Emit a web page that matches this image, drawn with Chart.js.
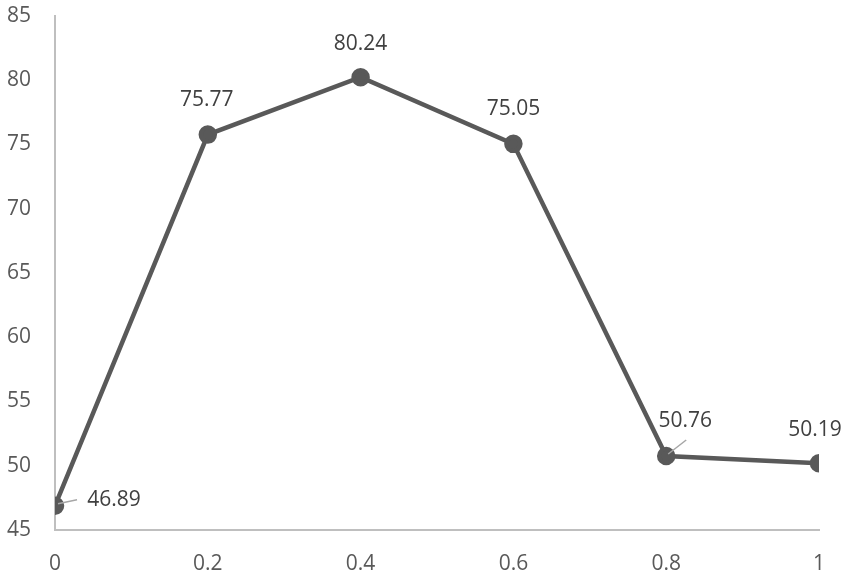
<!DOCTYPE html>
<html>
<head>
<meta charset="utf-8">
<script src="https://cdn.jsdelivr.net/npm/chart.js@4/dist/chart.umd.min.js"></script>
<style>
html,body{margin:0;padding:0;background:#fff;}
#wrap{width:851px;height:577px;}
</style>
</head>
<body>
<div id="wrap"><canvas id="c" width="851" height="577"></canvas></div>
<script>
const xValues = [0, 0.2, 0.4, 0.6, 0.8, 1];
const yValues = [46.89, 75.77, 80.24, 75.05, 50.76, 50.19];
const xTickLabels = ["0", "0.2", "0.4", "0.6", "0.8", "1"];
const yTickLabels = ["45", "50", "55", "60", "65", "70", "75", "80", "85"];

// label placement style (pixel offsets from each point) and leader flags
const labelOffsets = [[59,-6],[-1,-35],[0,-33],[0,-35],[19,-35],[-4,-33]];
const leaders = [[[3,-2],[22,-6]], null, null, null, [[2,-2],[20,-16]], null];

const labelPlugin = {
  id: 'pointLabels',
  afterDatasetsDraw(chart) {
    const ctx = chart.ctx;
    const meta = chart.getDatasetMeta(0);
    ctx.save();
    meta.data.forEach((pt, i) => {
      const lead = leaders[i];
      if (lead) {
        ctx.strokeStyle = '#a6a6a6';
        ctx.lineWidth = 1.5;
        ctx.beginPath();
        ctx.moveTo(pt.x + lead[0][0], pt.y + lead[0][1]);
        ctx.lineTo(pt.x + lead[1][0], pt.y + lead[1][1]);
        ctx.stroke();
      }
      ctx.fillStyle = '#404040';
      ctx.font = '21px "Open Sans", sans-serif';
      ctx.textAlign = 'center';
      ctx.textBaseline = 'middle';
      ctx.fillText(yValues[i].toFixed(2), pt.x + labelOffsets[i][0], pt.y + labelOffsets[i][1]);
    });
    ctx.restore();
  }
};

new Chart(document.getElementById('c'), {
  type: 'line',
  data: {
    datasets: [{
      data: xValues.map((x, i) => ({x: x, y: yValues[i]})),
      borderColor: '#595959',
      backgroundColor: '#595959',
      borderWidth: 4.5,
      pointRadius: 7,
      pointHoverRadius: 7,
      pointBackgroundColor: '#595959',
      pointBorderColor: '#595959',
      tension: 0
    }]
  },
  options: {
    responsive: false,
    animation: false,
    layout: {padding: {top: 16, right: 32, left: 0, bottom: 0}},
    plugins: {legend: {display: false}, tooltip: {enabled: false}},
    scales: {
      x: {
        type: 'linear',
        min: 0, max: 1,
        grid: {display: false, drawTicks: false},
        border: {display: true, color: '#bfbfbf', width: 2},
        ticks: {
          stepSize: 0.2,
          padding: 21,
          color: '#595959',
          font: {family: '"Open Sans", sans-serif', size: 21},
          callback: (v) => { const i = Math.round(v / 0.2); return xTickLabels[i]; }
        },
        afterFit: (s) => { s.height = 47; s.paddingLeft = 0; s.paddingRight = 0; s.paddingTop = 0; s.paddingBottom = 0; }
      },
      y: {
        min: 45, max: 85,
        grid: {display: false, drawTicks: false},
        border: {display: true, color: '#bfbfbf', width: 2},
        ticks: {
          stepSize: 5,
          padding: 24,
          color: '#595959',
          font: {family: '"Open Sans", sans-serif', size: 21},
          callback: (v) => yTickLabels[Math.round((v - 45) / 5)]
        },
        afterFit: (s) => { s.width = 55; s.paddingTop = 0; s.paddingBottom = 0; s.paddingLeft = 0; s.paddingRight = 0; }
      }
    }
  },
  plugins: [labelPlugin]
});
</script>
</body>
</html>
